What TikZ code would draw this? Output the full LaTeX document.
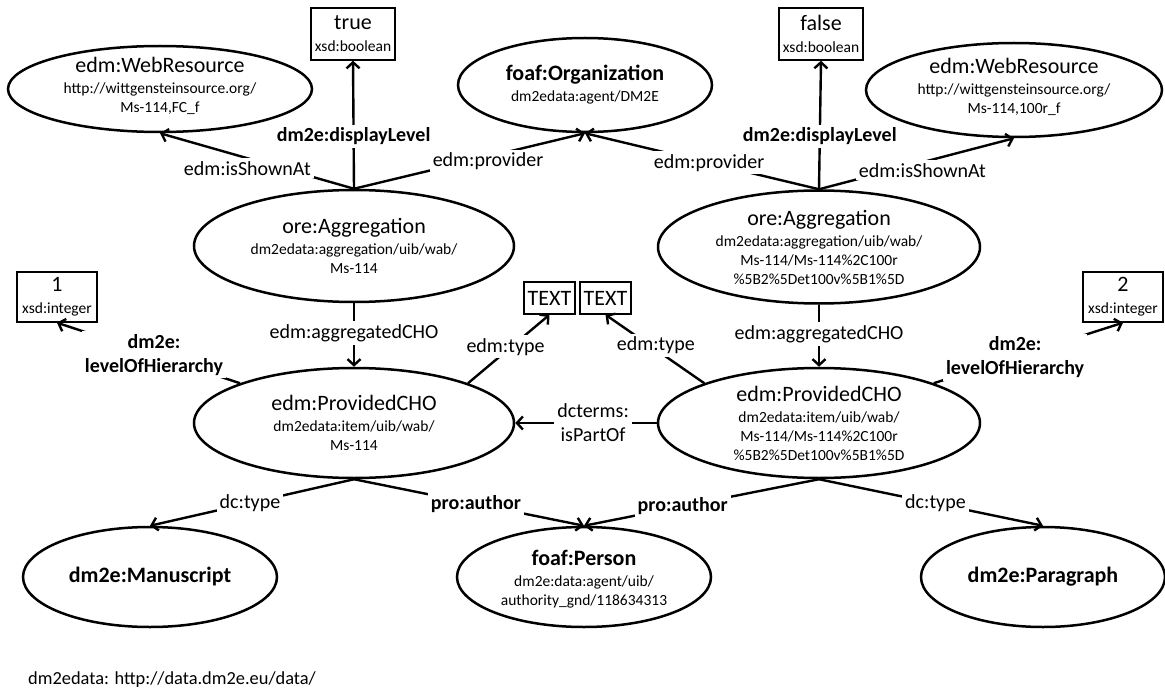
\documentclass[tikz,border=0pt]{standalone}
\usepackage{fontspec}
\setmainfont{Carlito}
\usetikzlibrary{arrows.meta,shapes.geometric}
\newcommand\ttl[1]{{\fontsize{22}{26}\selectfont #1}}
\newcommand\bttl[1]{{\fontsize{22}{26}\selectfont\bfseries #1}}
\tikzset{
  ell/.style={draw, ellipse, line width=2.5pt, inner sep=0pt},
  txt/.style={align=center, font=\fontsize{15.5}{19}\selectfont, inner sep=0pt},
  valbox/.style={draw, rectangle, line width=1.4pt, inner sep=0pt, align=center, font=\fontsize{15.5}{19}\selectfont},
  lbl/.style={fill=white, align=center, font=\fontsize{20}{24}\selectfont, inner sep=3pt},
  blbl/.style={lbl, font=\fontsize{20}{24}\selectfont\bfseries},
  edge/.style={line width=2.4pt, -{Straight Barb[length=6pt,width=13pt]}}
}
\begin{document}
\begin{tikzpicture}[x=1pt,y=-1pt]
\useasboundingbox (0,0) rectangle (1165,690);
% top row
\node[ell, minimum width=304pt, minimum height=86pt] (wr1) at (160,89) {};
\node[txt] (wr1t) at (160,86) {\ttl{edm:WebResource}\\[2pt] http://wittgensteinsource.org/\\ Ms-114,FC\_f};
\node[valbox, minimum width=84pt, minimum height=52pt] (tru) at (353,34) {\ttl{true}\\[3pt] xsd:boolean};
\node[ell, minimum width=254pt, minimum height=94pt] (org) at (585,85) {};
\node[txt] (orgt) at (org) {\bttl{foaf:Organization}\\[2pt] dm2edata:agent/DM2E};
\node[valbox, minimum width=84pt, minimum height=52pt] (fls) at (821,34) {\ttl{false}\\[3pt] xsd:boolean};
\node[ell, minimum width=296pt, minimum height=94pt] (wr2) at (1014,90) {};
\node[txt] (wr2t) at (1014,87) {\ttl{edm:WebResource}\\[2pt] http://wittgensteinsource.org/\\ Ms-114,100r\_f};
% aggregations
\node[ell, minimum width=320pt, minimum height=112pt] (agg1) at (354,246) {};
\node[txt] (agg1t) at (agg1) {\ttl{ore:Aggregation}\\[2pt] dm2edata:aggregation/uib/wab/\\ Ms-114};
\node[ell, minimum width=322pt, minimum height=113pt] (agg2) at (819,247) {};
\node[txt] (agg2t) at (agg2) {\ttl{ore:Aggregation}\\[2pt] dm2edata:aggregation/uib/wab/\\ Ms-114/Ms-114\%2C100r\\ \%5B2\%5Det100v\%5B1\%5D};
% value boxes
\node[valbox, minimum width=80pt, minimum height=50pt] (int1) at (57,297) {\ttl{1}\\[3pt] xsd:integer};
\node[valbox, minimum width=80pt, minimum height=50pt] (int2) at (1123,297) {\ttl{2}\\[3pt] xsd:integer};
\node[valbox, minimum width=51pt, minimum height=32pt] (txa) at (549.5,298) {\ttl{TEXT}};
\node[valbox, minimum width=51pt, minimum height=32pt] (txb) at (605.5,298) {\ttl{TEXT}};
% provided CHOs
\node[ell, minimum width=320pt, minimum height=110pt] (cho1) at (354,423) {};
\node[txt] (cho1t) at (cho1) {\ttl{edm:ProvidedCHO}\\[2pt] dm2edata:item/uib/wab/\\ Ms-114};
\node[ell, minimum width=322pt, minimum height=110pt] (cho2) at (819,423) {};
\node[txt] (cho2t) at (cho2) {\ttl{edm:ProvidedCHO}\\[2pt] dm2edata:item/uib/wab/\\ Ms-114/Ms-114\%2C100r\\ \%5B2\%5Det100v\%5B1\%5D};
% bottom row
\node[ell, minimum width=254pt, minimum height=100pt] (man) at (150,577) {};
\node[txt] (mant) at (man) {\bttl{dm2e:Manuscript}};
\node[ell, minimum width=254pt, minimum height=100pt] (per) at (584,577) {};
\node[txt] (pert) at (584,579) {\bttl{foaf:Person}\\[2pt] dm2e:data:agent/uib/\\ authority\_gnd/118634313};
\node[ell, minimum width=244pt, minimum height=100pt] (par) at (1043,577) {};
\node[txt] (part) at (par) {\bttl{dm2e:Paragraph}};
\node[anchor=west, font=\fontsize{18.4}{22}\selectfont, inner sep=0pt] (foot) at (28,680) {dm2edata: http://data.dm2e.eu/data/};
% edges
\draw[edge] (agg1.north) -- node[lbl, pos=0.55, yshift=-10pt] {edm:isShownAt} (wr1.south);
\draw[edge] (agg1.north) -- node[blbl, pos=0.41] {dm2e:displayLevel} (tru.south);
\draw[edge] (agg1.north) -- node[lbl, pos=0.58, yshift=-5pt] {edm:provider} (org.south);
\draw[edge] (agg2.north) -- node[lbl, pos=0.47] {edm:provider} (org.south);
\draw[edge] (agg2.north) -- node[blbl, pos=0.41] {dm2e:displayLevel} (fls.south);
\draw[edge] (agg2.north) -- node[lbl, pos=0.53, yshift=-8pt] {edm:isShownAt} (wr2.south);
\draw[edge] (agg1.south) -- node[lbl, pos=0.47] {edm:aggregatedCHO} (cho1.north);
\draw[edge] (agg2.south) -- node[lbl, pos=0.47] {edm:aggregatedCHO} (cho2.north);
\draw[edge] (cho1.north west) -- node[blbl, pos=0.47] {dm2e:\\levelOfHierarchy} (int1.south);
\draw[edge] (cho2.north east) -- node[blbl, pos=0.43] {dm2e:\\levelOfHierarchy} (int2.south);
\draw[edge] (cho1.north east) -- node[lbl, pos=0.46, yshift=5pt] {edm:type} (txa.south);
\draw[edge] (cho2.north west) -- node[lbl, pos=0.49, yshift=4pt] {edm:type} (txb.south);
\draw[edge] (cho2.west) -- node[lbl, pos=0.45] {dcterms:\\isPartOf} (cho1.east);
\draw[edge] (cho1.south) -- node[lbl, pos=0.51] {dc:type} (man.north);
\draw[edge] (cho1.south) -- node[blbl, pos=0.53] {pro:author} (per.north);
\draw[edge] (cho2.south) -- node[blbl, pos=0.58] {pro:author} (per.north);
\draw[edge] (cho2.south) -- node[lbl, pos=0.52] {dc:type} (par.north);
\end{tikzpicture}
\end{document}
